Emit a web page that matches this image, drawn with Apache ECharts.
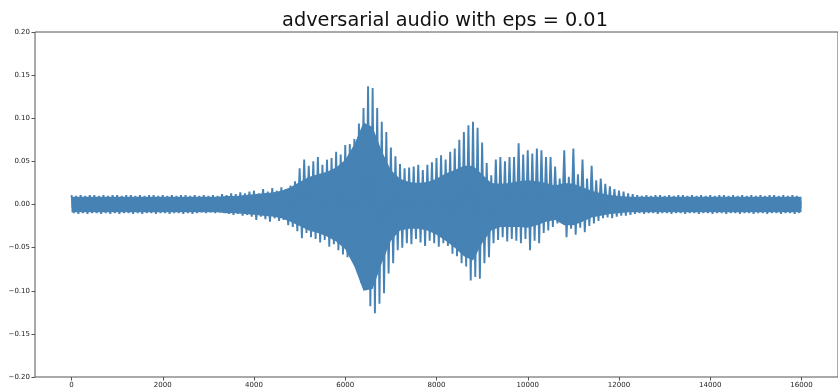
<!DOCTYPE html>
<html>
<head>
<meta charset="utf-8">
<script src="https://cdn.jsdelivr.net/npm/echarts@6/dist/echarts.min.js"></script>
<style>
  html, body { margin: 0; padding: 0; background: #fff; }
  #chart { width: 838px; height: 389px; }
</style>
</head>
<body>
<div id="chart"></div>
<script>
// Waveform peaks: for every block of BIN samples, the highest and lowest amplitude.
const BIN = 100;

const blockMax = [
  0.011, 0.010, 0.011, 0.010, 0.011, 0.011, 0.010, 0.011, 0.010, 0.011,
  0.011, 0.010, 0.011, 0.011, 0.010, 0.011, 0.010, 0.011, 0.011, 0.010,
  0.011, 0.010, 0.011, 0.010, 0.011, 0.011, 0.010, 0.011, 0.010, 0.011,
  0.010, 0.011, 0.010, 0.012, 0.011, 0.013, 0.012, 0.014, 0.013, 0.015,
  0.016, 0.013, 0.018, 0.015, 0.019, 0.016, 0.020, 0.018, 0.022, 0.027,
  0.042, 0.052, 0.045, 0.050, 0.055, 0.046, 0.052, 0.054, 0.061, 0.058,
  0.069, 0.070, 0.076, 0.094, 0.112, 0.137, 0.135, 0.112, 0.096, 0.084,
  0.066, 0.056, 0.047, 0.042, 0.043, 0.044, 0.046, 0.040, 0.046, 0.049,
  0.054, 0.057, 0.052, 0.061, 0.065, 0.075, 0.084, 0.092, 0.096, 0.089,
  0.072, 0.048, 0.034, 0.052, 0.055, 0.050, 0.055, 0.055, 0.071, 0.058,
  0.063, 0.059, 0.065, 0.063, 0.055, 0.055, 0.044, 0.030, 0.063, 0.032,
  0.065, 0.035, 0.052, 0.030, 0.045, 0.028, 0.030, 0.024, 0.021, 0.018,
  0.016, 0.015, 0.013, 0.012, 0.011, 0.010, 0.011, 0.010, 0.011, 0.011,
  0.010, 0.011, 0.010, 0.011, 0.011, 0.010, 0.011, 0.010, 0.011, 0.010,
  0.011, 0.010, 0.011, 0.011, 0.010, 0.011, 0.010, 0.011, 0.010, 0.011,
  0.010, 0.011, 0.010, 0.011, 0.011, 0.010, 0.011, 0.010, 0.011, 0.010
];

const blockMin = [
  -0.010, -0.011, -0.010, -0.011, -0.010, -0.010, -0.011, -0.010, -0.011, -0.010,
  -0.011, -0.010, -0.010, -0.011, -0.010, -0.011, -0.010, -0.010, -0.011, -0.010,
  -0.010, -0.011, -0.010, -0.010, -0.011, -0.010, -0.011, -0.010, -0.009, -0.010,
  -0.009, -0.010, -0.009, -0.010, -0.011, -0.012, -0.011, -0.013, -0.012, -0.014,
  -0.018, -0.014, -0.017, -0.020, -0.016, -0.019, -0.018, -0.024, -0.026, -0.031,
  -0.039, -0.033, -0.038, -0.040, -0.044, -0.041, -0.049, -0.046, -0.053, -0.058,
  -0.061, -0.064, -0.072, -0.091, -0.099, -0.118, -0.126, -0.115, -0.103, -0.080,
  -0.068, -0.053, -0.050, -0.045, -0.046, -0.040, -0.044, -0.048, -0.042, -0.045,
  -0.049, -0.045, -0.048, -0.057, -0.060, -0.068, -0.072, -0.088, -0.084, -0.086,
  -0.068, -0.061, -0.045, -0.041, -0.038, -0.043, -0.040, -0.042, -0.045, -0.040,
  -0.053, -0.042, -0.045, -0.033, -0.030, -0.026, -0.022, -0.020, -0.038, -0.028,
  -0.035, -0.027, -0.032, -0.025, -0.022, -0.019, -0.016, -0.015, -0.016, -0.014,
  -0.013, -0.013, -0.012, -0.011, -0.010, -0.011, -0.010, -0.010, -0.011, -0.010,
  -0.010, -0.011, -0.010, -0.010, -0.011, -0.010, -0.010, -0.011, -0.010, -0.010,
  -0.011, -0.010, -0.010, -0.011, -0.010, -0.010, -0.011, -0.010, -0.010, -0.011,
  -0.010, -0.010, -0.011, -0.010, -0.010, -0.011, -0.010, -0.010, -0.011, -0.010
];

// Dense body of the waveform, sampled every CORE_BIN samples (0 .. 16000).
const CORE_BIN = 200;

const coreMax = [
  0.009, 0.009, 0.009, 0.009, 0.009, 0.009, 0.009, 0.009, 0.009, 0.009,
  0.009, 0.009, 0.009, 0.009, 0.009, 0.009, 0.009, 0.010, 0.010, 0.011,
  0.012, 0.013, 0.014, 0.016, 0.020, 0.026, 0.032, 0.035, 0.038, 0.043,
  0.052, 0.070, 0.095, 0.090, 0.062, 0.040, 0.030, 0.026, 0.025, 0.026,
  0.030, 0.036, 0.040, 0.045, 0.045, 0.035, 0.025, 0.024, 0.025, 0.027,
  0.028, 0.027, 0.025, 0.022, 0.025, 0.024, 0.020, 0.016, 0.013, 0.011,
  0.010, 0.009, 0.009, 0.009, 0.009, 0.009, 0.009, 0.009, 0.009, 0.009,
  0.009, 0.009, 0.009, 0.009, 0.009, 0.009, 0.009, 0.009, 0.009, 0.009,
  0.009
];

const coreMin = [
  -0.009, -0.009, -0.009, -0.009, -0.009, -0.009, -0.009, -0.009, -0.009, -0.009,
  -0.009, -0.009, -0.009, -0.009, -0.009, -0.009, -0.009, -0.010, -0.010, -0.011,
  -0.012, -0.013, -0.014, -0.016, -0.020, -0.025, -0.030, -0.033, -0.037, -0.043,
  -0.052, -0.072, -0.100, -0.098, -0.068, -0.042, -0.030, -0.028, -0.028, -0.030,
  -0.035, -0.042, -0.050, -0.060, -0.065, -0.045, -0.030, -0.026, -0.026, -0.026,
  -0.027, -0.024, -0.020, -0.018, -0.024, -0.024, -0.020, -0.015, -0.013, -0.011,
  -0.010, -0.009, -0.009, -0.009, -0.009, -0.009, -0.009, -0.009, -0.009, -0.009,
  -0.009, -0.009, -0.009, -0.009, -0.009, -0.009, -0.009, -0.009, -0.009, -0.009,
  -0.009
];

const xTicks = [0, 2000, 4000, 6000, 8000, 10000, 12000, 14000, 16000];
const titleText = 'adversarial audio with eps = 0.01';

// Min/max rendering: each block contributes its peak, then its trough.
const wave = [];
for (let i = 0; i < blockMax.length; i++) {
  wave.push([i * BIN, blockMax[i]]);
  wave.push([i * BIN + BIN / 2, blockMin[i]]);
}
const coreTop = coreMax.map((v, j) => [j * CORE_BIN, v]);
const coreBottom = coreMin.map((v, j) => [j * CORE_BIN, v]);

const FONT = 'DejaVu Sans';
const BLUE = '#4682b4';
const fmtY = v => (v < 0 ? '\u2212' : '') + Math.abs(v).toFixed(2);

// Filled halves of the body; each reaches a little past zero so they overlap without a seam.
const bodySeries = (data, origin) => ({
  type: 'line',
  data: data,
  showSymbol: false,
  sampling: 'none',
  silent: true,
  lineStyle: { width: 0 },
  areaStyle: { color: BLUE, opacity: 1, origin: origin },
  z: 1
});

const chart = echarts.init(document.getElementById('chart'), null, { renderer: 'canvas' });
chart.setOption({
  animation: false,
  backgroundColor: '#ffffff',
  title: {
    text: titleText,
    left: 440,
    top: 6,
    textAlign: 'center',
    textStyle: { fontFamily: FONT, fontSize: 19.3, fontWeight: 'normal', color: '#111' }
  },
  grid: {
    left: 35, top: 32, right: -8, bottom: 12,
    show: true, borderColor: '#555', borderWidth: 1, backgroundColor: 'transparent'
  },
  xAxis: {
    type: 'value',
    min: -800,
    max: 16800,
    splitLine: { show: false },
    axisLine: { show: false, onZero: false },
    axisTick: { show: true, length: 3.5, customValues: xTicks, lineStyle: { color: '#555' } },
    axisLabel: {
      customValues: xTicks, margin: 5,
      formatter: v => String(v),
      fontFamily: FONT, fontSize: 7, color: '#222'
    }
  },
  yAxis: {
    type: 'value',
    min: -0.2,
    max: 0.2,
    interval: 0.05,
    splitLine: { show: false },
    axisLine: { show: false, onZero: false },
    axisTick: { show: true, length: 3.5, lineStyle: { color: '#555' } },
    axisLabel: { formatter: fmtY, margin: 5, fontFamily: FONT, fontSize: 7, color: '#222' }
  },
  series: [
    bodySeries(coreTop, -0.004),
    bodySeries(coreBottom, 0.004),
    {
      type: 'line',
      data: wave,
      showSymbol: false,
      sampling: 'none',
      lineStyle: { color: BLUE, width: 1.9 },
      itemStyle: { color: BLUE },
      z: 2
    }
  ]
});
</script>
</body>
</html>
